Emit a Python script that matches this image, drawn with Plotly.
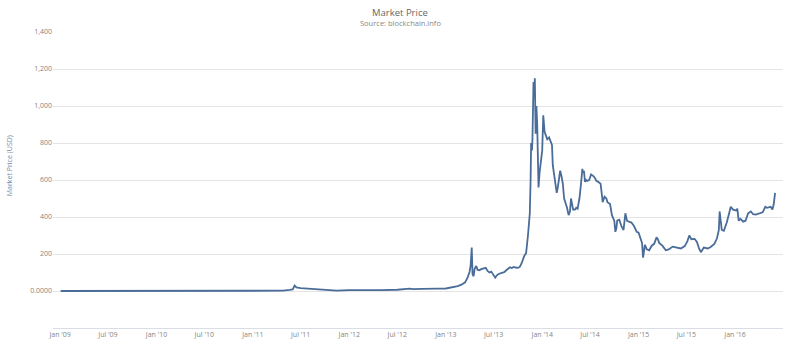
import plotly.graph_objects as go

dates = [
    "2009-01-03", "2009-07-01", "2010-01-01", "2010-07-17", "2010-08-17", "2010-11-06",
    "2011-02-10", "2011-04-25", "2011-05-20", "2011-06-01", "2011-06-08", "2011-06-15",
    "2011-07-01", "2011-07-20", "2011-08-10", "2011-09-01", "2011-10-01", "2011-11-15",
    "2011-12-31", "2012-02-01", "2012-03-01", "2012-05-01", "2012-07-01", "2012-08-17",
    "2012-09-01", "2012-10-01", "2012-11-01", "2012-12-01", "2013-01-01", "2013-02-01",
    "2013-02-15", "2013-03-01", "2013-03-15", "2013-03-25", "2013-04-01", "2013-04-05",
    "2013-04-09", "2013-04-12", "2013-04-16", "2013-04-20", "2013-04-26", "2013-05-01",
    "2013-05-08", "2013-05-15", "2013-05-22", "2013-06-01", "2013-06-08", "2013-06-15",
    "2013-06-22", "2013-07-01", "2013-07-07", "2013-07-13", "2013-07-20", "2013-08-01",
    "2013-08-10", "2013-08-20", "2013-09-01", "2013-09-08", "2013-09-15", "2013-09-22",
    "2013-10-01", "2013-10-08", "2013-10-15", "2013-10-25", "2013-11-01", "2013-11-08",
    "2013-11-12", "2013-11-15", "2013-11-18", "2013-11-20", "2013-11-23", "2013-11-25",
    "2013-11-29", "2013-12-01", "2013-12-04", "2013-12-07", "2013-12-10", "2013-12-13",
    "2013-12-16", "2013-12-18", "2013-12-22", "2013-12-28", "2014-01-01", "2014-01-05",
    "2014-01-10", "2014-01-15", "2014-01-20", "2014-01-27", "2014-02-01", "2014-02-07",
    "2014-02-10", "2014-02-15", "2014-02-20", "2014-02-25", "2014-03-01", "2014-03-05",
    "2014-03-10", "2014-03-15", "2014-03-20", "2014-03-25", "2014-04-01", "2014-04-05",
    "2014-04-11", "2014-04-16", "2014-04-20", "2014-04-24", "2014-04-28", "2014-05-05",
    "2014-05-10", "2014-05-15", "2014-05-22", "2014-05-28", "2014-06-02", "2014-06-05",
    "2014-06-08", "2014-06-12", "2014-06-16", "2014-06-20", "2014-06-28", "2014-07-05",
    "2014-07-10", "2014-07-15", "2014-07-20", "2014-07-25", "2014-08-01", "2014-08-10",
    "2014-08-15", "2014-08-18", "2014-08-25", "2014-09-01", "2014-09-05", "2014-09-10",
    "2014-09-15", "2014-09-22", "2014-10-01", "2014-10-05", "2014-10-09", "2014-10-12",
    "2014-10-20", "2014-10-28", "2014-11-05", "2014-11-12", "2014-11-18", "2014-11-25",
    "2014-12-05", "2014-12-15", "2014-12-25", "2015-01-01", "2015-01-07", "2015-01-14",
    "2015-01-18", "2015-01-22", "2015-01-25", "2015-02-01", "2015-02-10", "2015-02-20",
    "2015-03-01", "2015-03-10", "2015-03-15", "2015-03-20", "2015-04-01", "2015-04-14",
    "2015-04-25", "2015-05-10", "2015-05-25", "2015-06-10", "2015-06-25", "2015-07-05",
    "2015-07-12", "2015-07-20", "2015-08-01", "2015-08-10", "2015-08-18", "2015-08-25",
    "2015-09-05", "2015-09-20", "2015-10-01", "2015-10-15", "2015-10-25", "2015-11-01",
    "2015-11-04", "2015-11-07", "2015-11-12", "2015-11-20", "2015-12-01", "2015-12-10",
    "2015-12-16", "2015-12-25", "2016-01-05", "2016-01-10", "2016-01-15", "2016-01-22",
    "2016-02-01", "2016-02-10", "2016-02-20", "2016-03-01", "2016-03-10", "2016-03-20",
    "2016-04-01", "2016-04-15", "2016-04-25", "2016-05-01", "2016-05-15", "2016-05-22",
    "2016-05-27", "2016-06-01",
]
prices = [
    0, 0, 0, 0.05, 0.07, 0.4,
    1.0, 1.5, 6, 9, 29.6, 19,
    16, 14, 9, 8, 5, 2.5,
    4.5, 6, 5, 5, 6.7, 13,
    10, 12, 11, 12.5, 13.5, 20,
    27, 34, 47, 75, 104, 140,
    235, 90, 80, 120, 135, 115,
    112, 118, 122, 125, 108, 100,
    105, 88, 72, 85, 92, 98,
    102, 115, 128, 124, 130, 127,
    125, 130, 150, 190, 205, 300,
    360, 420, 600, 800, 760, 820,
    1130, 1050, 1150, 850, 1000, 900,
    700, 560, 640, 730, 760, 950,
    860, 840, 820, 830, 810, 790,
    680, 620, 580, 530, 560, 600,
    650, 620, 580, 500, 470, 450,
    410, 430, 500, 470, 440, 440,
    450, 445, 500, 580, 660, 640,
    650, 590, 600, 595, 600, 630,
    625, 620, 610, 595, 590, 580,
    520, 480, 510, 500, 480, 475,
    470, 410, 380, 320, 340, 380,
    385, 350, 330, 420, 380, 375,
    370, 350, 320, 315, 285, 260,
    180, 215, 250, 225, 220, 245,
    255, 290, 280, 260, 245, 220,
    225, 240, 237, 230, 243, 270,
    300, 280, 282, 265, 230, 210,
    235, 230, 238, 255, 285, 330,
    430, 380, 330, 325, 370, 420,
    455, 440, 435, 445, 380, 390,
    375, 380, 420, 430, 415, 413,
    418, 425, 455, 450, 455, 440,
    470, 530,
]

x_tickvals = ["2009-01-01", "2009-07-01", "2010-01-01", "2010-07-01", "2011-01-01",
              "2011-07-01", "2012-01-01", "2012-07-01", "2013-01-01", "2013-07-01",
              "2014-01-01", "2014-07-01", "2015-01-01", "2015-07-01", "2016-01-01"]
x_ticktext = ["Jan '09", "Jul '09", "Jan '10", "Jul '10", "Jan '11", "Jul '11",
              "Jan '12", "Jul '12", "Jan '13", "Jul '13", "Jan '14", "Jul '14",
              "Jan '15", "Jul '15", "Jan '16"]
y_tickvals = [0, 200, 400, 600, 800, 1000, 1200, 1400]
y_ticktext = ["0.0000", "200", "400", "600", "800", "1,000", "1,200", "1,400"]

FONT = "Open Sans, DejaVu Sans, sans-serif"
W, H = 800, 351
L, R, T, B = 53, 17, 32, 19
PW, PH = W - L - R, H - T - B


def px(xp, yp):
    """Convert pixel position (from top-left) to paper coordinates."""
    return (xp - L) / PW, (H - B - yp) / PH


fig = go.Figure()
fig.add_trace(go.Scatter(
    x=dates, y=prices, mode="lines",
    line=dict(color="#4a6c98", width=1.8),
    hoverinfo="x+y", showlegend=False,
))

tx, ty = px(400, 12)
sx, sy = px(400, 23)
ax_, ay_ = px(9, 168)

fig.update_layout(
    width=W, height=H,
    margin=dict(l=L, r=R, t=T, b=B),
    paper_bgcolor="white", plot_bgcolor="white",
    font=dict(family=FONT, size=8, color="#777777"),
    xaxis=dict(
        type="date", range=["2008-12-05", "2016-07-01"],
        tickvals=x_tickvals, ticktext=x_ticktext,
        showgrid=False, zeroline=False,
        showline=True, linecolor="#d8dde6", linewidth=1,
        ticks="", tickfont=dict(size=7, color="#858585"),
    ),
    yaxis=dict(
        range=[-200, 1400],
        tickvals=y_tickvals, ticktext=y_ticktext,
        showgrid=True, gridcolor="#e4e4e4", gridwidth=1,
        zeroline=False, showline=False, ticks="",
        tickfont=dict(size=7, color="#858585"),
    ),
    annotations=[
        dict(text="Market Price", x=tx, y=ty, xref="paper", yref="paper",
             xanchor="center", yanchor="middle",
             showarrow=False, font=dict(size=9.5, color="#666666", family=FONT)),
        dict(text="Source: blockchain.info", x=sx, y=sy, xref="paper", yref="paper",
             xanchor="center", yanchor="middle",
             showarrow=False, font=dict(size=7.5, color="#888888", family=FONT)),
        dict(text="Market Price (USD)", x=ax_, y=ay_, xref="paper", yref="paper",
             xanchor="center", yanchor="middle",
             showarrow=False, textangle=-90, font=dict(size=7, color="#6f86a8", family=FONT)),
    ],
)

fig.write_html("out.html")
